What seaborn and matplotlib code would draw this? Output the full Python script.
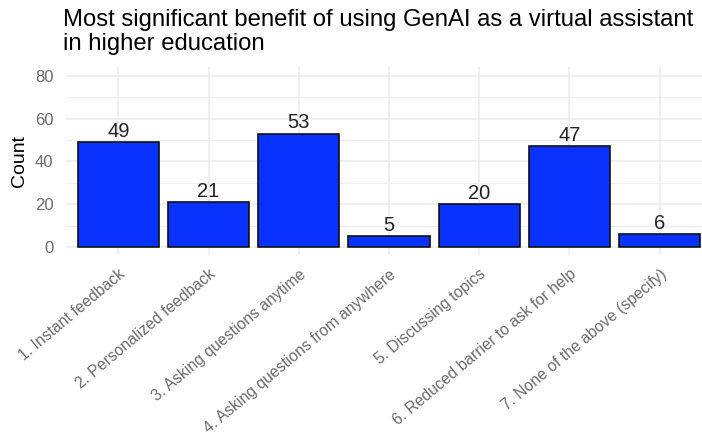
import matplotlib
matplotlib.use("Agg")
import matplotlib.pyplot as plt
import seaborn as sns
import pandas as pd

categories = [
    "1. Instant feedback",
    "2. Personalized feedback",
    "3. Asking questions anytime",
    "4. Asking questions from anywhere",
    "5. Discussing topics",
    "6. Reduced barrier to ask for help",
    "7. None of the above (specify)",
]
counts = [49, 21, 53, 5, 20, 47, 6]
y_ticks = [0, 20, 40, 60, 80]
y_minor = [10, 30, 50, 70]

df = pd.DataFrame({"benefit": categories, "count": counts})

sns.set_theme(style="white")
plt.rcParams["font.family"] = ["Liberation Sans", "DejaVu Sans"]

W, H = 702, 436
fig = plt.figure(figsize=(W / 100, H / 100), dpi=100)
ax = fig.add_axes([66 / W, (H - 255.5) / H, 636 / W, (255.5 - 67.4) / H])

grid_c = "#ebebeb"
for v in y_minor:
    ax.axhline(v, color=grid_c, lw=0.6, zorder=0)
for v in y_ticks:
    ax.axhline(v, color=grid_c, lw=1.1, zorder=0)
for i in range(len(categories)):
    ax.axvline(i, color=grid_c, lw=1.1, zorder=0)

sns.barplot(data=df, x="benefit", y="count", color="#0a32ff", saturation=1,
            edgecolor="#111111", linewidth=1.2, width=0.9, ax=ax, zorder=2)

for i, c in enumerate(counts):
    ax.text(i, c + 0.7, str(c), ha="center", va="bottom", fontsize=14.5,
            color="#222222")

ax.set_xlim(-0.58, 6.47)
ax.set_ylim(-4, 84)
ax.set_yticks(y_ticks)
ax.set_yticklabels([str(v) for v in y_ticks], fontsize=12, color="#6b6b6b")
ax.set_xticks(range(len(categories)))
ax.set_xticklabels(categories, rotation=40, ha="right", rotation_mode="anchor",
                   fontsize=11.3, color="#6b6b6b")
ax.tick_params(axis="y", length=0, pad=9)
ax.tick_params(axis="x", length=0, pad=8)
ax.set_xlabel("")
ax.set_ylabel("Count", fontsize=14, color="black", labelpad=5)
for s in ax.spines.values():
    s.set_visible(False)
ax.set_facecolor("white")

fig.text(63 / W, 1 - 9 / H,
         "Most significant benefit of using GenAI as a virtual assistant\nin higher education",
         ha="left", va="top", fontsize=17.2, color="black", linespacing=1.12)

fig.savefig("out.png", dpi=100, facecolor="white")
